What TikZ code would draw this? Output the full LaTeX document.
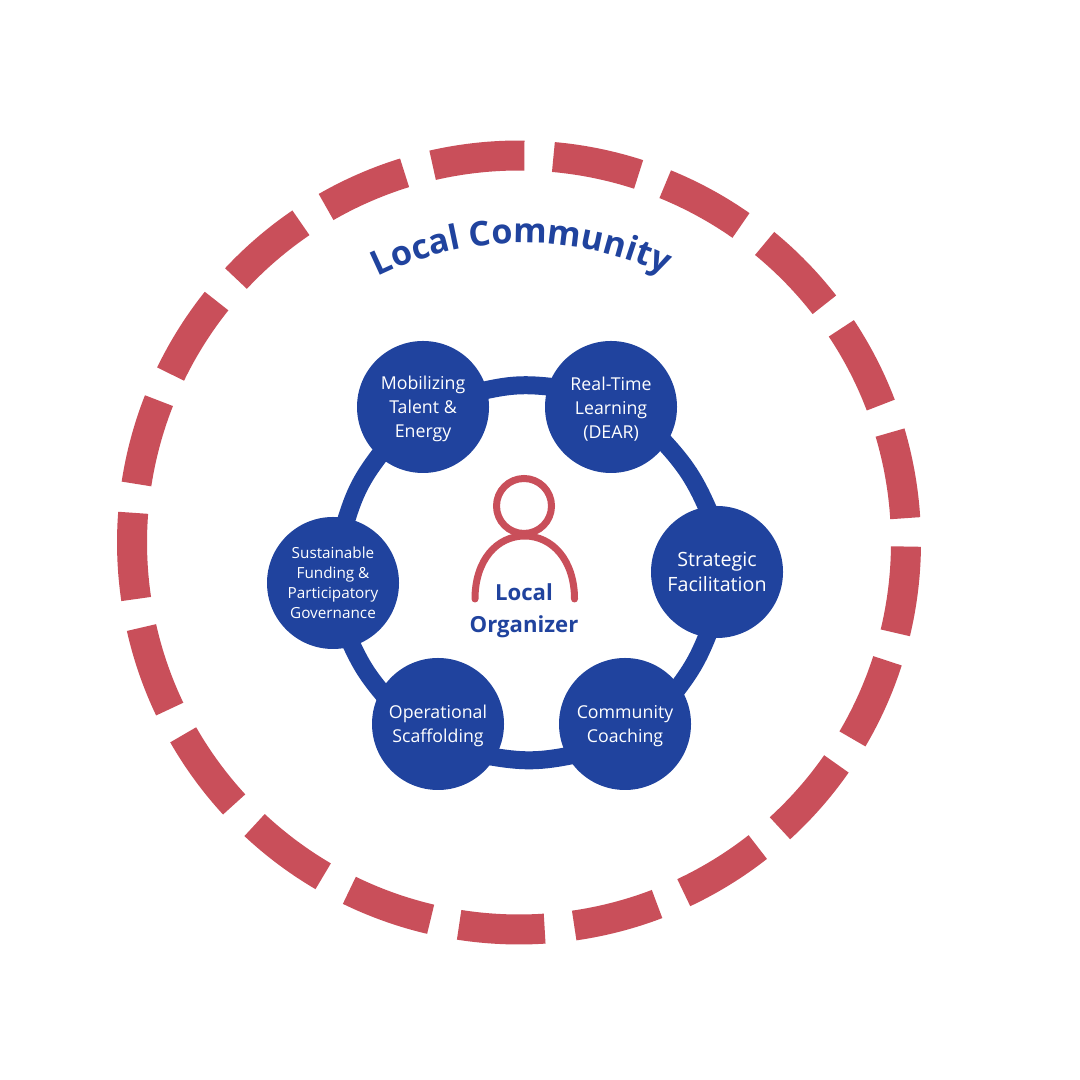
\documentclass[tikz,border=0pt]{standalone}
\usepackage{fontspec}
\setmainfont{Open Sans}
\usepackage{xcolor}
\usetikzlibrary{decorations.text}
\definecolor{ringblue}{HTML}{20439E}
\definecolor{ringred}{HTML}{C94F5A}
\newcommand{\lowline}{\rule{0pt}{5pt}}

\begin{document}
\begin{tikzpicture}[
    hub/.style={circle,fill=ringblue,text=white,align=center,inner sep=0pt,minimum size=1.32cm,font=\fontsize{5.05}{6.83}\selectfont},
    link/.style={draw=ringblue,line width=0.18cm,shorten >=-3pt,shorten <=-3pt},
    dashseg/.style={draw=ringred,line width=0.30cm},
    icon/.style={draw=ringred,line width=0.07cm,line cap=round}
  ]
    \useasboundingbox (0,0) rectangle (10.8,10.8);
    \fill[white] (0,0) rectangle (10.8,10.8);

    % outer community ring
    \foreach \s/\e in {102.9/89.2,84.9/72.0,67.8/55.0,50.6/37.9,33.6/20.8,16.5/3.6,-0.6/-13.5,
        -17.8/-30.5,-34.9/-47.6,-51.9/-64.8,-69.1/-81.8,-86.2/-98.9,-103.2/-116.0,-120.4/-133.1,
        -137.4/-150.2,-154.5/-167.3,-171.6/-184.4,-188.7/-201.5,-205.8/-218.6,-223.0/-235.7,-240.1/-252.8}{
      \draw[dashseg,shift={(5.19,5.375)}] (\s:3.87) arc[start angle=\s,end angle=\e,radius=3.87];
    }
    \path[decorate,decoration={text along path,text align=center,
        text={|\fontsize{9.7}{12}\selectfont\bfseries\color{ringblue}|Local Community}}]
      (5.24,5.07) ++(120.5:3.3) arc[start angle=120.5,end angle=60.5,radius=3.3];

    % hubs
    \node[hub] (mobilizing) at (4.23,6.73) {\lowline Mobilizing\\Talent \&\\Energy};
    \node[hub] (realtime) at (6.11,6.73) {\lowline Real-Time\\Learning\\(DEAR)};
    \node[hub,font=\fontsize{5.6}{7.25}\selectfont] (strategic) at (7.17,5.08) {Strategic\\Facilitation};
    \node[hub] (coaching) at (6.25,3.56) {\lowline Community\\Coaching};
    \node[hub] (scaffolding) at (4.38,3.56) {\lowline Operational\\Scaffolding};
    \node[hub,font=\fontsize{4.35}{5.7}\selectfont] (funding) at (3.33,4.97) {Sustainable\\Funding \&\\Participatory\\Governance};

    \draw[link] (mobilizing.15) to[bend left=10] (realtime.162);
    \draw[link] (realtime.-34) to[bend left=10] (strategic.99);
    \draw[link] (strategic.-99) to[bend left=8] (coaching.35);
    \draw[link] (coaching.209) to[bend left=11] (scaffolding.-30);
    \draw[link] (scaffolding.150) to[bend left=8] (funding.-73);
    \draw[link] (funding.78) to[bend left=11] (mobilizing.228);

    % organizer
    \node[icon,circle,inner sep=0pt,minimum size=0.55cm] (head) at (5.24,5.74) {};
    \draw[icon] (4.75,4.81) .. controls (4.75,5.20) and (4.97,5.44) .. (5.247,5.44)
      .. controls (5.52,5.44) and (5.745,5.20) .. (5.745,4.81);
    \node[text=ringblue,align=center,font=\fontsize{6.3}{9.1}\selectfont\bfseries] (organizer) at (5.24,4.69) {Local\\Organizer};
\end{tikzpicture}
\end{document}
